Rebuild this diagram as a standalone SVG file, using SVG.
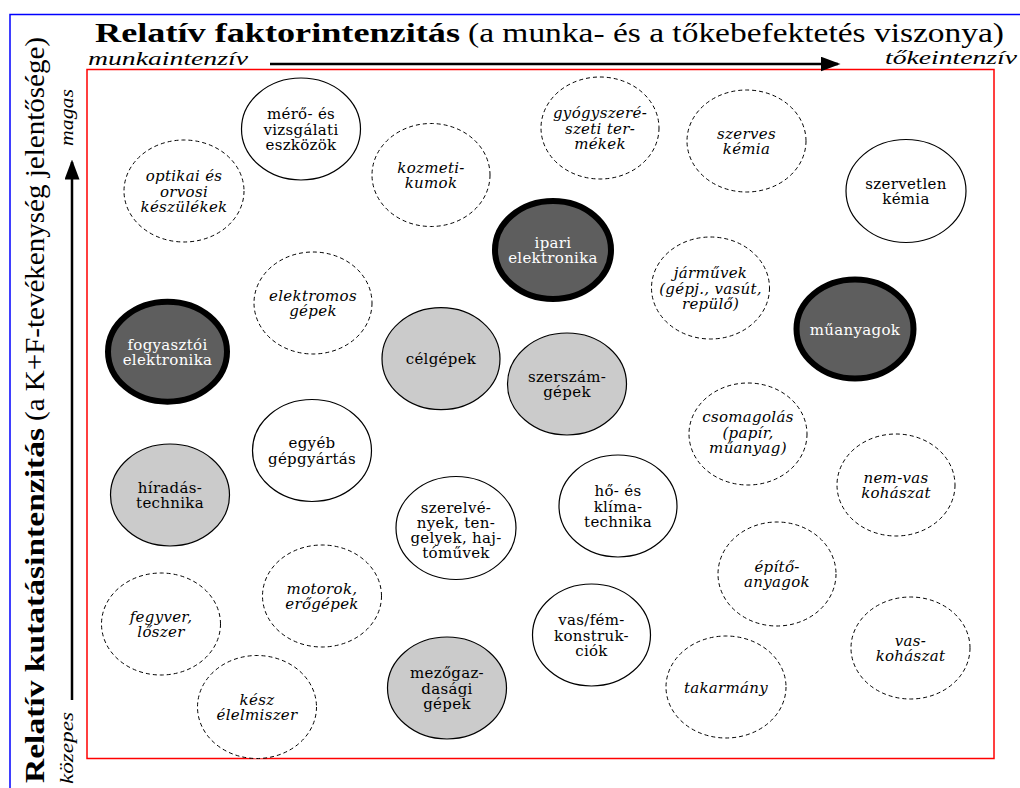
<svg xmlns="http://www.w3.org/2000/svg" width="1020" height="788" viewBox="0 0 1020 788">
<style>
.bg{fill:#fff}
.frame{fill:none;stroke:#0000ff;stroke-width:1.5}
.plot{fill:none;stroke:#ff0000;stroke-width:1.5}
.solid{fill:#fff;stroke:#000;stroke-width:1.2}
.dash{fill:#fff;stroke:#000;stroke-width:1;stroke-dasharray:4 3}
.gray{fill:#cbcbcb;stroke:#000;stroke-width:1.2}
.dark{fill:#5e5e5e;stroke:#000;stroke-width:6}
.t{font-family:"DejaVu Serif",serif;font-size:15px;letter-spacing:0.3px;text-anchor:middle;fill:#000}
.i{font-style:italic}
.w{fill:#fff}
.ttl{font-family:"Liberation Serif",serif;font-size:27px;fill:#000}
.ax{font-family:"Liberation Serif",serif;font-size:19px;font-style:italic;fill:#000}
.arr{stroke:#000;stroke-width:2.5;fill:none}
</style>
<defs>
<marker id="ah" markerWidth="8" markerHeight="6" refX="7" refY="3" orient="auto" markerUnits="strokeWidth">
<path d="M0,0 L8,3 L0,6 Z" fill="#000"/>
</marker>
</defs>
<rect class="bg" x="0" y="0" width="1020" height="788"/>
<path class="frame" d="M10,788 V14.5 H1020"/>
<rect class="plot" x="87" y="69.5" width="907" height="689"/>

<g id="titles">
<text class="ttl" x="95" y="42" font-weight="bold" textLength="365" lengthAdjust="spacingAndGlyphs">Relatív faktorintenzitás</text>
<text class="ttl" x="468" y="42" textLength="536" lengthAdjust="spacingAndGlyphs">(a munka- és a tőkebefektetés viszonya)</text>
<text class="ax" x="88" y="65" textLength="160" lengthAdjust="spacingAndGlyphs">munkaintenzív</text>
<text class="ax" x="885" y="64" textLength="132" lengthAdjust="spacingAndGlyphs">tőkeintenzív</text>
<text class="ttl" transform="translate(44,783) rotate(-90)" x="0" y="0" font-weight="bold" textLength="355" lengthAdjust="spacingAndGlyphs">Relatív kutatásintenzitás</text>
<text class="ttl" transform="translate(44,421) rotate(-90)" x="0" y="0" textLength="384" lengthAdjust="spacingAndGlyphs">(a K+F-tevékenység jelentősége)</text>
<text class="ax" transform="translate(73,784) rotate(-90)" x="0" y="0" textLength="72" lengthAdjust="spacingAndGlyphs">közepes</text>
<text class="ax" transform="translate(73,146) rotate(-90)" x="0" y="0" textLength="57" lengthAdjust="spacingAndGlyphs">magas</text>
</g>

<g id="connectors">
<line class="arr" x1="270" y1="64" x2="838" y2="64" marker-end="url(#ah)"/>
<line class="arr" x1="72" y1="700" x2="72" y2="162" marker-end="url(#ah)"/>
</g>

<g id="meroes"><ellipse class="solid" cx="301" cy="129" rx="59.5" ry="51"/><text class="t"><tspan x="301" y="119">mérő- és</tspan><tspan x="301" y="134.5">vizsgálati</tspan><tspan x="301" y="150">eszközök</tspan></text></g>
<g id="optikai"><ellipse class="dash" cx="184" cy="191" rx="60" ry="51"/><text class="t i"><tspan x="184" y="181">optikai és</tspan><tspan x="184" y="196.5">orvosi</tspan><tspan x="184" y="212">készülékek</tspan></text></g>
<g id="kozmetikumok"><ellipse class="dash" cx="431" cy="175" rx="59" ry="51.5"/><text class="t i"><tspan x="431" y="172.8">kozmeti-</tspan><tspan x="431" y="188.3">kumok</tspan></text></g>
<g id="gyogyszer"><ellipse class="dash" cx="600" cy="128" rx="59" ry="51"/><text class="t i"><tspan x="600" y="118">gyógyszeré-</tspan><tspan x="600" y="133.5">szeti ter-</tspan><tspan x="600" y="149">mékek</tspan></text></g>
<g id="szerves"><ellipse class="dash" cx="746.5" cy="141" rx="59.5" ry="51"/><text class="t i"><tspan x="746.5" y="138.8">szerves</tspan><tspan x="746.5" y="154.3">kémia</tspan></text></g>
<g id="szervetlen"><ellipse class="solid" cx="906" cy="191" rx="60" ry="51.5"/><text class="t"><tspan x="906" y="188.8">szervetlen</tspan><tspan x="906" y="204.3">kémia</tspan></text></g>
<g id="ipari"><ellipse class="dark" cx="553" cy="250" rx="58" ry="49"/><text class="t w"><tspan x="553" y="247.8">ipari</tspan><tspan x="553" y="263.3">elektronika</tspan></text></g>
<g id="elektromos"><ellipse class="dash" cx="313" cy="303" rx="59" ry="51"/><text class="t i"><tspan x="313" y="300.8">elektromos</tspan><tspan x="313" y="316.3">gépek</tspan></text></g>
<g id="jarmuvek"><ellipse class="dash" cx="710.5" cy="288" rx="59" ry="51"/><text class="t i"><tspan x="710.5" y="278">járművek</tspan><tspan x="710.5" y="293.5">(gépj., vasút,</tspan><tspan x="710.5" y="309">repülő)</tspan></text></g>
<g id="fogyasztoi"><ellipse class="dark" cx="167.5" cy="351.7" rx="59.5" ry="50"/><text class="t w"><tspan x="167.5" y="349.5">fogyasztói</tspan><tspan x="167.5" y="365">elektronika</tspan></text></g>
<g id="celgepek"><ellipse class="gray" cx="441" cy="358.7" rx="59" ry="51"/><text class="t"><tspan x="441" y="364.2">célgépek</tspan></text></g>
<g id="szerszamgepek"><ellipse class="gray" cx="567" cy="384" rx="59.5" ry="51"/><text class="t"><tspan x="567" y="381.8">szerszám-</tspan><tspan x="567" y="397.3">gépek</tspan></text></g>
<g id="muanyagok"><ellipse class="dark" cx="855" cy="329" rx="58.5" ry="49.5"/><text class="t w"><tspan x="855" y="334.5">műanyagok</tspan></text></g>
<g id="egyeb"><ellipse class="solid" cx="312" cy="450.5" rx="59.5" ry="51"/><text class="t"><tspan x="312" y="448.3">egyéb</tspan><tspan x="312" y="463.8">gépgyártás</tspan></text></g>
<g id="csomagolas"><ellipse class="dash" cx="748" cy="434" rx="59" ry="51"/><text class="t i"><tspan x="748" y="422">csomagolás</tspan><tspan x="748" y="437.5">(papír,</tspan><tspan x="748" y="453">műanyag)</tspan></text></g>
<g id="hiradastechnika"><ellipse class="gray" cx="170" cy="495" rx="59.5" ry="51"/><text class="t"><tspan x="170" y="492.8">híradás-</tspan><tspan x="170" y="508.3">technika</tspan></text></g>
<g id="szerelvenyek"><ellipse class="solid" cx="456" cy="528" rx="60" ry="51.5"/><text class="t"><tspan x="456" y="513">szerelvé-</tspan><tspan x="456" y="528">nyek, ten-</tspan><tspan x="456" y="543">gelyek, haj-</tspan><tspan x="456" y="558">tóművek</tspan></text></g>
<g id="hoklima"><ellipse class="solid" cx="618" cy="506" rx="59" ry="51"/><text class="t"><tspan x="618" y="496">hő- és</tspan><tspan x="618" y="511.5">klíma-</tspan><tspan x="618" y="527">technika</tspan></text></g>
<g id="nemvas"><ellipse class="dash" cx="896" cy="485" rx="59" ry="51"/><text class="t i"><tspan x="896" y="482.8">nem-vas</tspan><tspan x="896" y="498.3">kohászat</tspan></text></g>
<g id="epitoanyagok"><ellipse class="dash" cx="777" cy="574" rx="59" ry="52"/><text class="t i"><tspan x="777" y="571.8">építő-</tspan><tspan x="777" y="587.3">anyagok</tspan></text></g>
<g id="fegyver"><ellipse class="dash" cx="161" cy="624" rx="59.5" ry="51"/><text class="t i"><tspan x="161" y="621.8">fegyver,</tspan><tspan x="161" y="637.3">lőszer</tspan></text></g>
<g id="motorok"><ellipse class="dash" cx="322" cy="596" rx="59.5" ry="51"/><text class="t i"><tspan x="322" y="593.8">motorok,</tspan><tspan x="322" y="609.3">erőgépek</tspan></text></g>
<g id="vasfem"><ellipse class="solid" cx="591.5" cy="635" rx="59" ry="51"/><text class="t"><tspan x="591.5" y="625">vas/fém-</tspan><tspan x="591.5" y="640.5">konstruk-</tspan><tspan x="591.5" y="656">ciók</tspan></text></g>
<g id="vaskohaszat"><ellipse class="dash" cx="910.5" cy="648" rx="59.5" ry="51"/><text class="t i"><tspan x="910.5" y="645.8">vas-</tspan><tspan x="910.5" y="661.3">kohászat</tspan></text></g>
<g id="keszelelmiszer"><ellipse class="dash" cx="257" cy="707" rx="59.5" ry="51.5"/><text class="t i"><tspan x="257" y="704.8">kész</tspan><tspan x="257" y="720.3">élelmiszer</tspan></text></g>
<g id="mezogazdasagi"><ellipse class="gray" cx="447" cy="688" rx="59.5" ry="51"/><text class="t"><tspan x="447" y="678">mezőgaz-</tspan><tspan x="447" y="693.5">dasági</tspan><tspan x="447" y="709">gépek</tspan></text></g>
<g id="takarmany"><ellipse class="dash" cx="726" cy="687" rx="60" ry="51"/><text class="t i"><tspan x="726" y="692.5">takarmány</tspan></text></g>
</svg>
